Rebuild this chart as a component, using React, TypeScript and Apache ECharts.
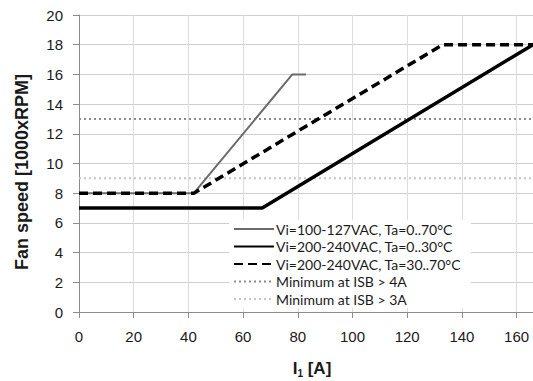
import React, { useEffect, useRef } from "react";
import * as echarts from "echarts";

const grayX = [0, 42, 78, 83];
const grayY = [8, 8, 16, 16];
const hotX = [0, 42, 133, 166];
const hotY = [8, 8, 18, 18];
const coolX = [0, 67, 166];
const coolY = [7, 7, 18];
const limit4A = 13;
const limit3A = 9;
const xRange = [0, 166];

const names = [
  "Vi=100-127VAC, Ta=0..70°C",
  "Vi=200-240VAC, Ta=0..30°C",
  "Vi=200-240VAC, Ta=30..70°C",
  "Minimum at ISB > 4A",
  "Minimum at ISB > 3A",
];

const zip = (xs: number[], ys: number[]) => xs.map((x, i) => [x, ys[i]]);
const ARIAL = "Liberation Sans";

export default function App() {
  const ref = useRef<HTMLDivElement>(null);
  useEffect(() => {
    const chart = echarts.init(ref.current!, undefined, { renderer: "svg" });
    const axisFont = { fontFamily: ARIAL, fontSize: 15, color: "#1a1a1a" };
    chart.setOption({
      animation: false,
      backgroundColor: "#fff",
      grid: { left: 79, right: 0, top: 15, bottom: 69, outerBoundsMode: "none", containLabel: false },
      xAxis: {
        type: "value",
        min: 0,
        max: 166,
        interval: 20,
        name: "{b|I}{s|1}{b| [A]}",
        nameLocation: "middle",
        nameGap: 46,
        nameTextStyle: {
          padding: [0, 0, 0, 12],
          rich: {
            b: { fontFamily: ARIAL, fontSize: 17, fontWeight: "bold", color: "#1a1a1a" },
            s: { fontFamily: ARIAL, fontSize: 10, fontWeight: "bold", color: "#1a1a1a", padding: [10, 0, 0, 0] },
          },
        },
        axisLine: { show: true, lineStyle: { color: "#8c8c8c", width: 1 } },
        axisTick: { show: true, length: 6, lineStyle: { color: "#8c8c8c" } },
        axisLabel: { ...axisFont, margin: 17, showMaxLabel: false },
        splitLine: { show: true, lineStyle: { color: "#dcdcdc", width: 1 } },
      },
      yAxis: {
        type: "value",
        min: 0,
        max: 20,
        interval: 2,
        name: "Fan speed [1000xRPM]",
        nameLocation: "middle",
        nameGap: 48,
        nameTextStyle: { fontFamily: ARIAL, fontSize: 18, fontWeight: "bold", color: "#1a1a1a", padding: [0, 17, 0, 0] },
        axisLine: { show: true, lineStyle: { color: "#8c8c8c", width: 1 } },
        axisTick: { show: true, length: 6, lineStyle: { color: "#8c8c8c" } },
        axisLabel: { ...axisFont, margin: 16 },
        splitLine: { show: true, lineStyle: { color: "#cfcfcf", width: 1 } },
      },
      legend: {
        orient: "vertical",
        left: 229,
        top: 220,
        itemGap: 3.5,
        itemWidth: 40,
        itemHeight: 14,
        backgroundColor: "#fff",
        padding: [2, 10, 2, 4],
        itemStyle: { opacity: 0 },
        textStyle: { fontFamily: "Lato", fontSize: 14, color: "#1a1a1a", padding: [0, 0, 0, -3] },
        data: names,
      },
      series: [
        {
          name: names[3],
          type: "line",
          symbol: "none",
          z: 1,
          data: zip(xRange, [limit4A, limit4A]),
          lineStyle: { color: "#8a8a8a", width: 2, type: [2, 3] },
        },
        {
          name: names[4],
          type: "line",
          symbol: "none",
          z: 1,
          data: zip(xRange, [limit3A, limit3A]),
          lineStyle: { color: "#c4c4c4", width: 2, type: [2, 3] },
        },
        {
          name: names[0],
          type: "line",
          symbol: "none",
          z: 2,
          data: zip(grayX, grayY),
          lineStyle: { color: "#6b6b6b", width: 2 },
        },
        {
          name: names[1],
          type: "line",
          symbol: "none",
          z: 3,
          data: zip(coolX, coolY),
          lineStyle: { color: "#000", width: 3.5 },
        },
        {
          name: names[2],
          type: "line",
          symbol: "none",
          z: 3,
          data: zip(hotX, hotY),
          lineStyle: { color: "#000", width: 3.5, type: [9, 5] },
        },
      ],
    });
    return () => chart.dispose();
  }, []);
  return <div ref={ref} style={{ width: 533, height: 381, position: "absolute", left: 0, top: 0 }} />;
}
